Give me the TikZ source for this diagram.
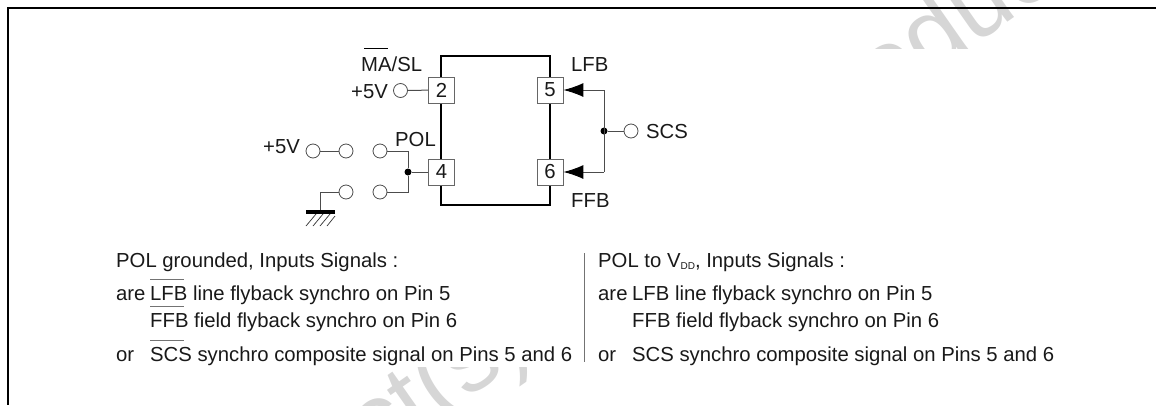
\documentclass[tikz,border=0pt]{standalone}
\usepackage{fontspec}
\setmainfont{Liberation Sans}
\usetikzlibrary{arrows.meta}

\newcommand{\barsig}[2]{\rlap{\color{black!55}\raisebox{#2}{\rule{34pt}{1pt}}}#1}

\begin{document}
\begin{tikzpicture}[x=1pt,y=-1pt,
  every node/.style={font=\fontsize{20.3}{24}\selectfont, text=black!90, inner sep=0pt},
  wire/.style={black!70, line width=1pt},
  chip/.style={black, line width=2pt},
  pin/.style={draw=black!60, line width=0.8pt, fill=white, minimum size=26pt},
  pad/.style={draw=black!70, line width=0.8pt, fill=white, circle, minimum size=14pt},
  junc/.style={fill=black, circle, minimum size=7pt},
  lbl/.style={anchor=base west},
  wmark/.style={font=\fontsize{100}{100}\selectfont, text=black!16, anchor=base west, rotate=35}]

\useasboundingbox (0,0) rectangle (1156,405);

\begin{scope}
\clip (800,0) rectangle (1156,48);
\node [wmark] (markt) at (801,167) {Product(s)};
\end{scope}
\begin{scope}
\clip (300,367) rectangle (560,405);
\node [wmark] (markb) at (157,616) {Product(s)};
\end{scope}

\draw [black, line width=2pt] (1156,8)--(8,8)--(8,405);

\path (441,56) coordinate(A);
\path (550,205) coordinate(B);
\draw [chip] (A) rectangle (B);

\node [pin] (pin2) at (441.5,90) {2};
\node [pin] (pin4) at (441.5,172) {4};
\node [pin] (pin5) at (550,90) {5};
\node [pin] (pin6) at (550,172) {6};

\node [lbl] (masl) at (361,71) {\rlap{\color{black}\raisebox{22pt}{\hspace{3pt}\rule{24pt}{0.8pt}}}MA/SL};
\node [lbl] (vcca) at (351,98) {+5V};
\node [pad] (pada) at (400.5,90.5) {};
\draw [wire] (pada)--(pin2);

\node [lbl] (vccb) at (263,153) {+5V};
\node [lbl] (pol) at (395,146) {POL};
\node [pad] (swa) at (313,151) {};
\node [pad] (swb) at (346,151) {};
\node [pad] (swc) at (380,151) {};
\node [pad] (swd) at (346,192) {};
\node [pad] (swe) at (380,192) {};
\node [junc] (juna) at (408,172) {};

\draw [wire] (swa)--(swb);
\draw [wire] (swc)-|(juna);
\draw [wire] (swe)-|(juna);
\draw [wire] (juna)--(pin4);

% ground
\path (320,210) coordinate(G);
\draw [wire] (swd)-|(G);
\draw [black, line width=4pt] (306,212)--(335,212);
\draw [black!80, line width=0.7pt] (306,226)--(316,214) (313,226)--(323,214) (320,226)--(330,214) (327,226)--(335,216);

\node [junc] (junb) at (604,131) {};
\node [pad] (pads) at (631,131) {};
\node [lbl] (scs) at (646,138) {SCS};
\node [lbl] (lfb) at (571,71) {LFB};
\node [lbl] (ffb) at (571,207) {FFB};
\path (604,90) coordinate(C);
\path (604,172) coordinate(D);

\draw [wire] (junb)--(pads);
\draw [wire] (C)--(D);
\draw [wire, -{Latex[black,length=20pt,width=14pt]}] (C)--(pin5);
\draw [wire, -{Latex[black,length=20pt,width=14pt]}] (D)--(pin6);

\node [lbl] (lhead) at (116,267) {POL grounded, Inputs Signals :};
\node [lbl] (lare) at (116,300) {are};
\node [lbl] (llfb) at (150,300) {\barsig{LFB}{20pt} line flyback synchro on Pin 5};
\node [lbl] (lffb) at (150,327) {\barsig{FFB}{20pt} field flyback synchro on Pin 6};
\node [lbl] (lor) at (116,361) {or};
\node [lbl] (lscs) at (150,361) {\barsig{SCS}{20.5pt} synchro composite signal on Pins 5 and 6};

\path (584,253) coordinate(E);
\path (584,362) coordinate(F);
\draw [black!55, line width=1pt] (E)--(F);

\node [lbl] (rhead) at (598,267) {POL to V\raisebox{-2.5pt}{\fontsize{10}{10}\selectfont DD}, Inputs Signals :};
\node [lbl] (rare) at (598,300) {are};
\node [lbl] (rlfb) at (632,300) {LFB line flyback synchro on Pin 5};
\node [lbl] (rffb) at (632,327) {FFB field flyback synchro on Pin 6};
\node [lbl] (ror) at (598,361) {or};
\node [lbl] (rscs) at (632,361) {SCS synchro composite signal on Pins 5 and 6};

\end{tikzpicture}
\end{document}
